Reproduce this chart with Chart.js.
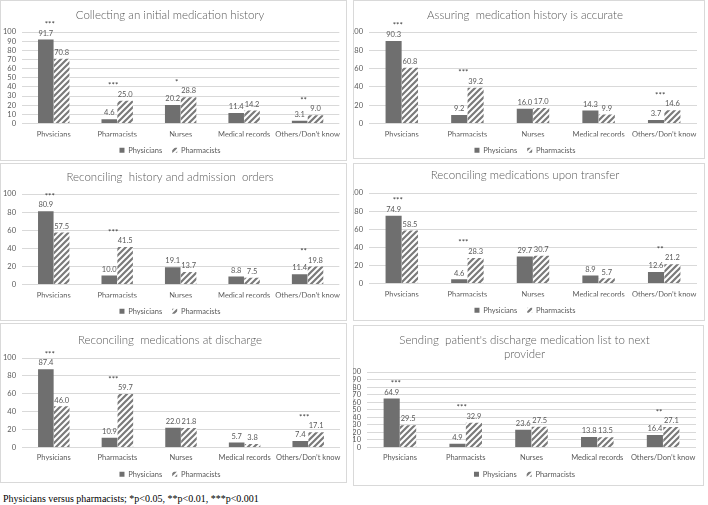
<!DOCTYPE html>
<html>
<head>
<meta charset="utf-8">
<script src="https://cdn.jsdelivr.net/npm/chart.js@4.4.0/dist/chart.umd.min.js"></script>
<style>
body{margin:0;background:#fff;width:708px;height:505px;overflow:hidden;position:relative;font-family:Lato}
.box{position:absolute;border:1px solid #d9d9d9;box-sizing:border-box}
canvas{position:absolute}
#note{position:absolute;left:3px;top:493px;font:10px "Liberation Serif";color:#000;white-space:nowrap}
</style>
</head>
<body>
<div id="note">Physicians versus pharmacists; *p&lt;0.05, **p&lt;0.01, ***p&lt;0.001</div>
<script>
var categories = ['Physicians', 'Pharmacists', 'Nurses', 'Medical records', 'Others/Don\u2019t know']
var seriesNames = ['Physicians', 'Pharmacists']

var titles = [
    'Collecting an initial medication history',
    'Assuring  medication history is accurate',
    'Reconciling  history and admission  orders',
    'Reconciling medications upon transfer',
    'Reconciling  medications at discharge',
    ["Sending  patient's discharge medication list to next", 'provider']
]

var phys1 = [91.7, 4.6, 20.2, 11.4, 3.1]
var pharm1 = [70.8, 25.0, 28.8, 14.2, 9.0]
var stars1 = ['***', '***', '*', '', '**']

var phys2 = [90.3, 9.2, 16.0, 14.3, 3.7]
var pharm2 = [60.8, 39.2, 17.0, 9.9, 14.6]
var stars2 = ['***', '***', '', '', '***']

var phys3 = [80.9, 10.0, 19.1, 8.8, 11.4]
var pharm3 = [57.5, 41.5, 13.7, 7.5, 19.8]
var stars3 = ['***', '***', '', '', '**']

var phys4 = [74.9, 4.6, 29.7, 8.9, 12.6]
var pharm4 = [58.5, 28.3, 30.7, 5.7, 21.2]
var stars4 = ['***', '***', '', '', '**']

var phys5 = [87.4, 10.9, 22.0, 5.7, 7.4]
var pharm5 = [46.0, 59.7, 21.8, 3.8, 17.1]
var stars5 = ['***', '***', '', '', '***']

var phys6 = [64.9, 4.9, 23.6, 13.8, 16.4]
var pharm6 = [29.5, 32.9, 27.5, 13.5, 27.1]
var stars6 = ['***', '***', '', '', '**']

var yMax = 100
var ySteps = [10, 20, 20, 20, 20, 10]

var physAll = [phys1, phys2, phys3, phys4, phys5, phys6]
var pharmAll = [pharm1, pharm2, pharm3, pharm4, pharm5, pharm6]
var starsAll = [stars1, stars2, stars3, stars4, stars5, stars6]

// panel boxes and where things sit inside them (px, relative to box top)
var panels = [
    {x: 0, y: 0, w: 347, h: 161, axisW: 22, padR: 7, titleY: 15, plotTop: 32, plotBottom: 123, catY: 134, legendY: 150},
    {x: 353, y: 0, w: 352, h: 159, axisW: 16, padR: 8, titleY: 15, plotTop: 32, plotBottom: 123, catY: 134, legendY: 150},
    {x: 0, y: 163, w: 347, h: 158, axisW: 22, padR: 7, titleY: 14, plotTop: 31, plotBottom: 121, catY: 132, legendY: 148},
    {x: 353, y: 163, w: 352, h: 158, axisW: 16, padR: 8, titleY: 12, plotTop: 30, plotBottom: 120, catY: 131, legendY: 147},
    {x: 0, y: 323, w: 347, h: 160, axisW: 22, padR: 7, titleY: 17, plotTop: 35, plotBottom: 124, catY: 134, legendY: 151},
    {x: 353, y: 325, w: 351, h: 161, axisW: 14, padR: 8, titleY: 15, plotTop: 47, plotBottom: 122, catY: 132, legendY: 149}
]

var textColor = '#595959'
var barGray = '#6f6f6f'

function hatch(){
    var c = document.createElement('canvas')
    c.width = 6; c.height = 6
    var g = c.getContext('2d')
    g.fillStyle = '#fff'
    g.fillRect(0, 0, 6, 6)
    g.strokeStyle = '#7a7a7a'
    g.lineWidth = 2.2
    g.beginPath()
    g.moveTo(0, 6); g.lineTo(6, 0)
    g.moveTo(-1, 1); g.lineTo(1, -1)
    g.moveTo(5, 7); g.lineTo(7, 5)
    g.stroke()
    return g.createPattern(c, 'repeat')
}

function makeChart(i){
    var p = panels[i]
    var box = document.createElement('div')
    box.className = 'box'
    box.style.left = p.x + 'px'; box.style.top = p.y + 'px'
    box.style.width = p.w + 'px'; box.style.height = p.h + 'px'
    document.body.appendChild(box)

    var cvH = p.h + 14
    var cv = document.createElement('canvas')
    cv.width = p.w; cv.height = cvH
    cv.style.left = p.x + 'px'; cv.style.top = p.y + 'px'
    cv.style.width = p.w + 'px'; cv.style.height = cvH + 'px'
    document.body.appendChild(cv)

    var titleSize = 11.5
    var lineH = titleSize * 1.25
    var nLines = Array.isArray(titles[i]) ? titles[i].length : 1
    var padTop = p.titleY - lineH / 2
    var titleBottomPad = p.plotTop - padTop - nLines * lineH
    var legPad = 10
    var legendTop = p.legendY - legPad - 4
    var xAxisH = legendTop - p.plotBottom
    var padBottom = cvH - p.legendY - 14

    var stars = starsAll[i]
    var labels = {
        id: 'barLabels' + i,
        afterDatasetsDraw: function(chart){
            var ctx = chart.ctx
            ctx.save()
            ctx.font = '7.5px Lato'
            ctx.fillStyle = textColor
            ctx.textAlign = 'center'
            ctx.textBaseline = 'bottom'
            chart.data.datasets.forEach(function(ds, d){
                chart.getDatasetMeta(d).data.forEach(function(bar, j){
                    ctx.fillText(ds.data[j].toFixed(1), bar.x, bar.y - 2.5)
                })
            })
            ctx.font = '8px Lato'
            ctx.fillStyle = '#404040'
            stars.forEach(function(s, j){
                if (!s) return
                var top = Math.max(physAll[i][j], pharmAll[i][j])
                ctx.fillText(s, chart.scales.x.getPixelForValue(j) - 4, chart.scales.y.getPixelForValue(top) - 11)
            })
            ctx.restore()
        }
    }

    new Chart(cv, {
        type: 'bar',
        data: {
            labels: categories,
            datasets: [{
                label: seriesNames[0],
                data: physAll[i],
                backgroundColor: barGray,
                categoryPercentage: 0.5,
                barPercentage: 0.98
            }, {
                label: seriesNames[1],
                data: pharmAll[i],
                backgroundColor: hatch(),
                categoryPercentage: 0.5,
                barPercentage: 0.98
            }]
        },
        options: {
            responsive: false,
            animation: false,
            layout: {padding: {top: padTop, bottom: padBottom, left: 0, right: p.padR}},
            plugins: {
                title: {
                    display: true,
                    text: titles[i],
                    color: textColor,
                    font: {family: 'Lato', size: titleSize, weight: 300, lineHeight: 1.25},
                    padding: {top: 0, bottom: titleBottomPad}
                },
                legend: {
                    position: 'bottom',
                    labels: {
                        boxWidth: 5,
                        boxHeight: 5,
                        padding: legPad,
                        color: textColor,
                        font: {family: 'Lato', size: 7.5}
                    }
                },
                tooltip: {enabled: false}
            },
            scales: {
                x: {
                    grid: {display: false, drawTicks: false},
                    border: {display: false},
                    ticks: {color: textColor, font: {family: 'Lato', size: 7.5}, padding: p.catY - p.plotBottom - 4.5, maxRotation: 0, autoSkip: false},
                    afterFit: function(scale){ scale.height = xAxisH }
                },
                y: {
                    min: 0,
                    max: yMax,
                    ticks: {stepSize: ySteps[i], autoSkip: false, color: textColor, font: {family: 'Lato', size: 7.5}, padding: 6},
                    grid: {color: '#d9d9d9', drawTicks: false},
                    border: {display: false},
                    afterFit: function(scale){ scale.width = p.axisW }
                }
            }
        },
        plugins: [labels]
    })
}

for (var k = 0; k < panels.length; k++) makeChart(k)
</script>
</body>
</html>
